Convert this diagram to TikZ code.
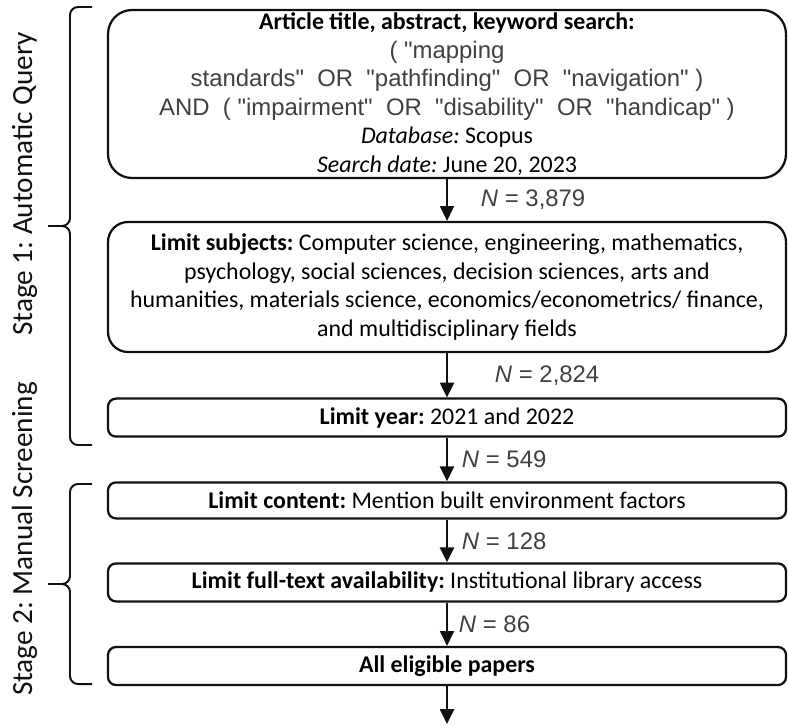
\documentclass[tikz,border=0pt]{standalone}
\usepackage{fontspec}
\setmainfont{Carlito}
\newfontfamily\queryfont{Liberation Sans}
\usetikzlibrary{arrows.meta}
\definecolor{ink}{HTML}{111111}
\definecolor{muted}{HTML}{404040}
\tikzset{
  flow/.style={-{Triangle[length=3.7mm,width=3.5mm]},draw=ink,line width=1.4pt},
  stepbox/.style={draw=ink,line width=1.6pt,rounded corners=2mm,minimum width=16.95cm,minimum height=9.5mm,align=center,inner sep=0pt,text=black},
  querybox/.style={stepbox,rounded corners=6mm,minimum height=42mm},
  subjectbox/.style={stepbox,rounded corners=5mm,minimum height=32.5mm},
  count label/.style={inner sep=0pt,font=\queryfont\fontsize{17}{20.3}\selectfont,text=muted},
  stage brace/.style={draw=ink,line width=1.4pt,rounded corners=2mm},
  stage label/.style={rotate=90,anchor=base,inner sep=0pt,font=\fontsize{20.8}{24}\selectfont,text=ink}
}
\frenchspacing
\begin{document}
\begin{tikzpicture}[font=\fontsize{17}{20.3}\selectfont]
  \useasboundingbox (0,0) rectangle (19.7,-18.125);

  \node[querybox] (query) at (11.175,-2.35) {
    {\bfseries Article title, abstract, keyword search:}\\
    {\queryfont\color{muted}( "mapping}\\
    {\queryfont\color{muted}standards"~ OR~ "pathfinding"~ OR~ "navigation" )}\\
    {\queryfont\color{muted}AND~ ( "impairment"~ OR~ "disability"~ OR~ "handicap" )}\\
    {\itshape Database:} Scopus\\
    {\itshape Search date:} June 20, 2023
  };
  \node[subjectbox] (subjects) at (11.175,-7.175) {
    {\bfseries Limit subjects:} Computer science, engineering, mathematics,\\
    psychology, social sciences, decision sciences, arts and\\
    humanities, materials science, economics/econometrics/ finance,\\
    and multidisciplinary fields
  };
  \node[stepbox] (year) at (11.175,-10.44) {{\bfseries Limit year:} 2021 and 2022};
  \node[stepbox,minimum height=9mm] (content) at (11.175,-12.51) {{\bfseries Limit content:} Mention built environment factors};
  \node[stepbox] (access) at (11.175,-14.56) {{\bfseries Limit full-text availability:} Institutional library access};
  \node[stepbox] (eligible) at (11.175,-16.65) {{\bfseries All eligible papers}};
  \coordinate (out) at (11.175,-18.1);

  \draw[flow] (query.south) -- node[count label,right=8.25mm] {\textit{N} = 3,879} (subjects.north);
  \draw[flow] (subjects.south) -- node[count label,right=11.75mm] {\textit{N} = 2,824} (year.north);
  \draw[flow] (year.south) -- node[count label,right=3.5mm] {\textit{N} = 549} (content.north);
  \draw[flow] (content.south) -- node[count label,right=3.5mm] {\textit{N} = 128} (access.north);
  \draw[flow] (access.south) -- node[count label,right=2.75mm] {\textit{N} = 86} (eligible.north);
  \draw[flow] (eligible.south) -- (out);

  % stage braces
  \draw[stage brace] (2.3,-0.175) -| (1.75,-5.65) -- (1.2,-5.65);
  \draw[stage brace] (2.3,-11.125) -| (1.75,-5.65) -- (1.2,-5.65);
  \draw[stage brace] (2.3,-12.1) -| (1.75,-14.6) -- (1.2,-14.6);
  \draw[stage brace] (2.3,-17.1) -| (1.75,-14.6) -- (1.2,-14.6);

  \node[stage label] (stage1) at (0.8,-4.6) {Stage 1: Automatic Query};
  \node[stage label] (stage2) at (0.8,-13.475) {Stage 2: Manual Screening};
\end{tikzpicture}
\end{document}
